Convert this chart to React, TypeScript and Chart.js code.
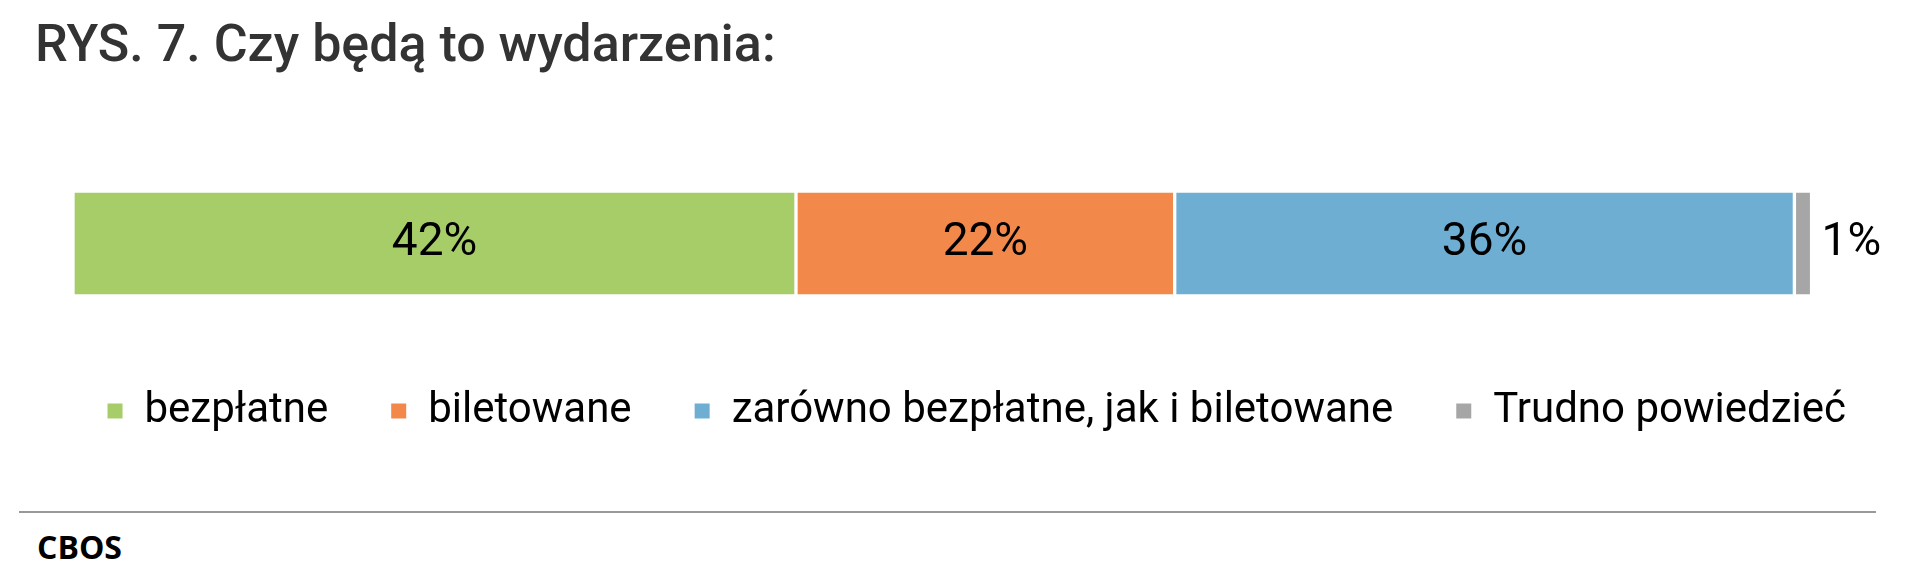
import { useEffect, useRef } from 'react';
import { Chart, registerables } from 'chart.js';
import type { Plugin } from 'chart.js';

Chart.register(...registerables);

const categories = ['RYS. 7'];
const seriesNames = ['bezpłatne', 'biletowane', 'zarówno bezpłatne, jak i biletowane', 'Trudno powiedzieć'];
const seriesValues = [42, 22, 36, 1];
const seriesColors = ['#A6CD68', '#F2884A', '#6DAED2', '#A6A6A6'];

const valueLabels: Plugin<'bar'> = {
  id: 'valueLabels',
  afterDatasetsDraw(chart) {
    const ctx = chart.ctx;
    ctx.save();
    ctx.font = '46px Roboto';
    ctx.fillStyle = '#000';
    ctx.textBaseline = 'middle';
    chart.data.datasets.forEach((ds, i) => {
      const meta = chart.getDatasetMeta(i);
      meta.data.forEach((el: any, j) => {
        const v = ds.data[j] as number;
        const text = `${v}%`;
        if (v < 5) {
          ctx.textAlign = 'left';
          ctx.fillText(text, el.x + 10, el.y);
        } else {
          ctx.textAlign = 'center';
          ctx.fillText(text, (el.x + el.base) / 2, el.y);
        }
      });
    });
    ctx.restore();
  },
};

export default function App() {
  const chartRef = useRef<HTMLCanvasElement>(null);
  const chartInstance = useRef<Chart | null>(null);

  useEffect(() => {
    document.body.style.margin = '0';
    if (!chartRef.current) return;
    if (chartInstance.current) chartInstance.current.destroy();
    const ctx = chartRef.current.getContext('2d');
    if (!ctx) return;

    chartInstance.current = new Chart(ctx, {
      type: 'bar',
      data: {
        labels: categories,
        datasets: seriesNames.map((name, i) => ({
          label: name,
          data: [seriesValues[i]],
          backgroundColor: seriesColors[i],
          borderColor: '#FFFFFF',
          borderWidth: 2,
          borderSkipped: false,
          barThickness: 105,
        })),
      },
      options: {
        indexAxis: 'y',
        responsive: true,
        maintainAspectRatio: false,
        animation: false,
        layout: { padding: { left: 0, right: 0, top: 39, bottom: 0 } },
        scales: {
          x: { stacked: true, min: 0, max: 106.6, display: false },
          y: {
            stacked: true,
            display: true,
            ticks: { display: false },
            grid: { display: false },
            border: { display: false },
            afterFit: (scale) => {
              scale.width = 73;
            },
          },
        },
        plugins: {
          tooltip: { enabled: false },
          legend: {
            position: 'bottom',
            align: 'end',
            labels: {
              boxWidth: 17,
              boxHeight: 17,
              padding: 62,
              color: '#000',
              font: { family: 'Roboto', size: 42 },
            },
          },
        },
      },
      plugins: [valueLabels],
    });

    return () => {
      if (chartInstance.current) {
        chartInstance.current.destroy();
        chartInstance.current = null;
      }
    };
  }, []);

  return (
    <div style={{ position: 'relative', width: 1908, height: 573, background: '#fff', overflow: 'hidden' }}>
      <div
        style={{
          position: 'absolute',
          left: 35,
          top: 18,
          fontFamily: 'Roboto',
          fontWeight: 500,
          fontSize: 52,
          lineHeight: '52px',
          color: '#333',
          whiteSpace: 'nowrap',
        }}
      >
        RYS. 7. Czy będą to wydarzenia:
      </div>
      <div style={{ position: 'absolute', left: 0, top: 120, width: 1908, height: 322 }}>
        <canvas ref={chartRef}></canvas>
      </div>
      <div style={{ position: 'absolute', left: 19, top: 511, width: 1857, height: 2, background: '#999999' }} />
      <div
        style={{
          position: 'absolute',
          left: 37,
          top: 531,
          fontFamily: '"Open Sans"',
          fontWeight: 700,
          fontSize: 32,
          lineHeight: '32px',
          color: '#000',
        }}
      >
        CBOS
      </div>
    </div>
  );
}
